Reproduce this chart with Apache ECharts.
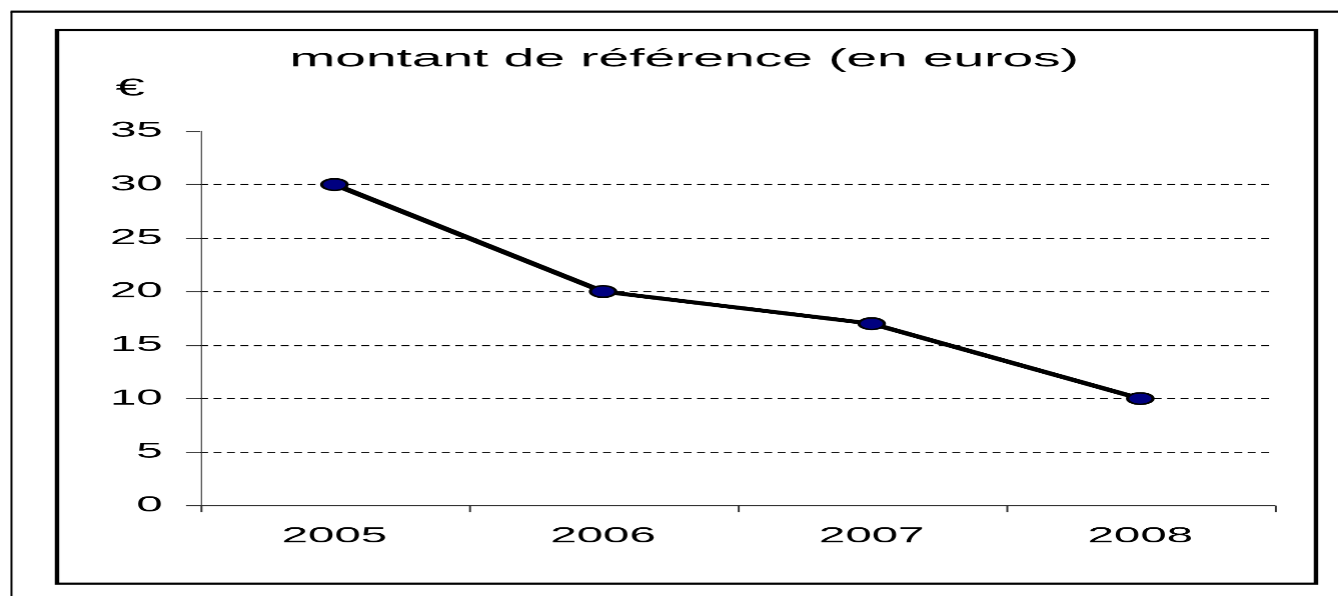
<!DOCTYPE html>
<html>
<head>
<meta charset="utf-8">
<script src="https://cdn.jsdelivr.net/npm/echarts@6/dist/echarts.min.js"></script>
<style>
  html, body { margin: 0; padding: 0; background: #fff; overflow: hidden; }
  #chart { width: 608px; height: 596px; transform: scaleX(2.2007); transform-origin: 0 0; }
</style>
</head>
<body>
<div id="chart"></div>
<script>
// ---- data ----
const titleText = 'montant de référence (en euros)';
const unitLabel = '€';
const years = ['2005', '2006', '2007', '2008'];
const amounts = [30, 20, 17, 10];
const yTicks = { min: 0, max: 35, interval: 5 };

// ---- chart ----
const chart = echarts.init(document.getElementById('chart'), null, { renderer: 'canvas', devicePixelRatio: 2.2 });
const FONT = '"Liberation Sans", Arial, sans-serif';

chart.setOption({
  animation: false,
  backgroundColor: '#ffffff',
  title: {
    text: titleText,
    left: 131.5,
    top: 47,
    padding: 0,
    textStyle: { fontFamily: FONT, fontSize: 25, fontWeight: 'normal', color: '#000' }
  },
  graphic: [
    { type: 'line', shape: { x1: 5.2, y1: 11.6, x2: 5.2, y2: 700 }, style: { stroke: '#000', lineWidth: 0.9 }, silent: true },
    { type: 'line', shape: { x1: 4.8, y1: 11.6, x2: 700, y2: 11.6 }, style: { stroke: '#000', lineWidth: 2 }, silent: true },
    { type: 'rect', shape: { x: 25.9, y: 30, width: 571.8, height: 553.5 }, style: { fill: 'none', stroke: '#000', lineWidth: 2 }, silent: true }
  ],
  grid: { left: 90.9, right: 29.1, top: 131, bottom: 90.5, containLabel: false },
  xAxis: {
    type: 'category',
    data: years,
    boundaryGap: true,
    axisLine: { show: true, lineStyle: { color: '#333', width: 1 } },
    axisTick: { show: true, alignWithLabel: false, length: 6.5, lineStyle: { color: '#333', width: 0.9 } },
    axisLabel: { fontFamily: FONT, fontSize: 21.5, color: '#000', margin: 20 },
    splitLine: { show: false }
  },
  yAxis: {
    type: 'value',
    min: yTicks.min,
    max: yTicks.max,
    interval: yTicks.interval,
    name: unitLabel,
    nameLocation: 'end',
    nameGap: 30,
    nameTextStyle: { fontFamily: FONT, fontSize: 24, color: '#000', align: 'right', padding: [0, 25, 0, 0] },
    axisLine: { show: true, lineStyle: { color: '#333', width: 0.5 } },
    axisTick: { show: true, length: 6.4, lineStyle: { color: '#333', width: 1 } },
    axisLabel: { fontFamily: FONT, fontSize: 21.5, color: '#000', margin: 17 },
    splitLine: { show: true, showMinLine: false, showMaxLine: false, lineStyle: { color: '#000', width: 1, type: [3.6, 2.5] } }
  },
  series: [{
    type: 'line',
    data: amounts,
    symbol: 'circle',
    symbolSize: 11.5,
    lineStyle: { color: '#000', width: 4 },
    itemStyle: { color: '#000080', borderColor: '#000', borderWidth: 1.5 },
    z: 3
  }]
});
</script>
</body>
</html>
